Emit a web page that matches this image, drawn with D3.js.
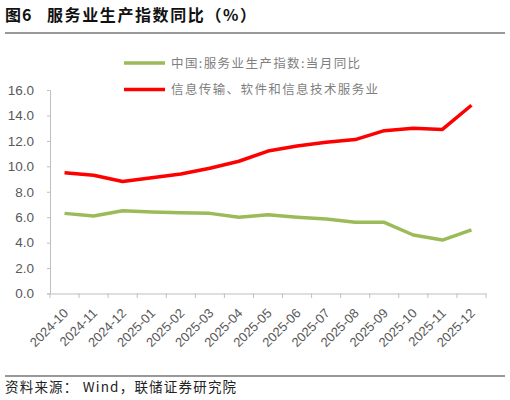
<!DOCTYPE html>
<html><head><meta charset="utf-8">
<script src="https://cdn.jsdelivr.net/npm/d3@7"></script>
<style>body{margin:0;background:#fff}svg{display:block}</style>
</head><body>
<svg id="c" width="510" height="400"></svg>
<script>
const categories=["2024-10","2024-11","2024-12","2025-01","2025-02","2025-03","2025-04","2025-05","2025-06","2025-07","2025-08","2025-09","2025-10","2025-11","2025-12"];
const serviceIndex=[6.3,6.1,6.5,6.4,6.35,6.3,6.0,6.2,6.0,5.85,5.6,5.6,4.6,4.2,5.0];
const infoTech=[9.5,9.3,8.8,9.1,9.4,9.85,10.4,11.2,11.6,11.9,12.1,12.8,13.0,12.9,14.8];
const seriesNames=["中国:服务业生产指数:当月同比","信息传输、软件和信息技术服务业"];
const yTicks=[0,2,4,6,8,10,12,14,16];

const svg=d3.select("#c");
const font="Arial, 'Liberation Sans', 'Noto Sans CJK SC', sans-serif";
const cjk="'Noto Sans CJK SC', sans-serif";
const x=d3.scaleBand().domain(categories).range([50,486]);
const y=d3.scaleLinear().domain([0,16]).range([293.5,90]);

// title
const tt=svg.append("g").attr("font-family",cjk).attr("font-weight","bold").attr("font-size",16).attr("fill","#111");
tt.append("text").attr("x",5).attr("y",21).attr("letter-spacing",1).text("图6");
tt.append("text").attr("x",47).attr("y",21).attr("letter-spacing",1.6).text("服务业生产指数同比（%）");
svg.append("line").attr("x1",5).attr("x2",505).attr("y1",33).attr("y2",33).attr("stroke","#777").attr("stroke-width",1.5);

// y axis
const ya=svg.append("g").attr("transform","translate(50,0)")
  .call(d3.axisLeft(y).tickValues(yTicks).tickFormat(d3.format(".1f")).tickSize(3).tickPadding(13));
ya.select(".domain").attr("stroke","#bfbfbf");
ya.selectAll(".tick line").attr("stroke","#bfbfbf");
ya.selectAll("text").attr("font-family",font).attr("font-size",13.5).attr("fill","#595959");

// x axis
const xa=svg.append("g").attr("transform","translate(0,293.5)")
  .call(d3.axisBottom(x).tickSize(0).tickFormat(""));
xa.select(".domain").attr("stroke","#bfbfbf");
xa.selectAll(".tick").remove();
svg.append("g").selectAll("line").data(categories.concat(["_end"])).join("line")
  .attr("x1",(d,i)=>x.range()[0]+i*x.step()).attr("x2",(d,i)=>x.range()[0]+i*x.step())
  .attr("y1",293.5).attr("y2",298).attr("stroke","#bfbfbf");
svg.append("g").selectAll("text").data(categories).join("text")
  .attr("transform",d=>`translate(${x(d)+x.bandwidth()/2+4.5},${314}) rotate(-45)`)
  .attr("text-anchor","end").attr("font-family",font).attr("font-size",13).attr("fill","#595959").text(d=>d);

// lines
const line=d3.line().x((d,i)=>x(categories[i])+x.bandwidth()/2).y(d=>y(d));
svg.append("path").datum(serviceIndex).attr("d",line).attr("fill","none").attr("stroke","#9bbb59").attr("stroke-width",3.5).attr("stroke-linejoin","round");
svg.append("path").datum(infoTech).attr("d",line).attr("fill","none").attr("stroke","#ff0000").attr("stroke-width",3.5).attr("stroke-linejoin","round");

// legend
const colors=["#9bbb59","#ff0000"];
const lg=svg.append("g");
seriesNames.forEach((n,i)=>{
  const yy=63+i*26.5;
  lg.append("line").attr("x1",124).attr("x2",165).attr("y1",yy).attr("y2",yy).attr("stroke",colors[i]).attr("stroke-width",3.5);
  lg.append("text").attr("x",171).attr("y",yy+4.5).attr("font-family",cjk).attr("font-size",12.5).attr("letter-spacing",1.4).attr("fill","#7f7f7f").text(n);
});

// footer
svg.append("line").attr("x1",5).attr("x2",505).attr("y1",376).attr("y2",376).attr("stroke","#777").attr("stroke-width",1.5);
svg.append("text").attr("x",5).attr("y",392).attr("font-family",cjk).attr("font-size",13.5).attr("letter-spacing",1.2).attr("fill","#222").text("资料来源： Wind，联储证券研究院");
</script>
</body></html>
